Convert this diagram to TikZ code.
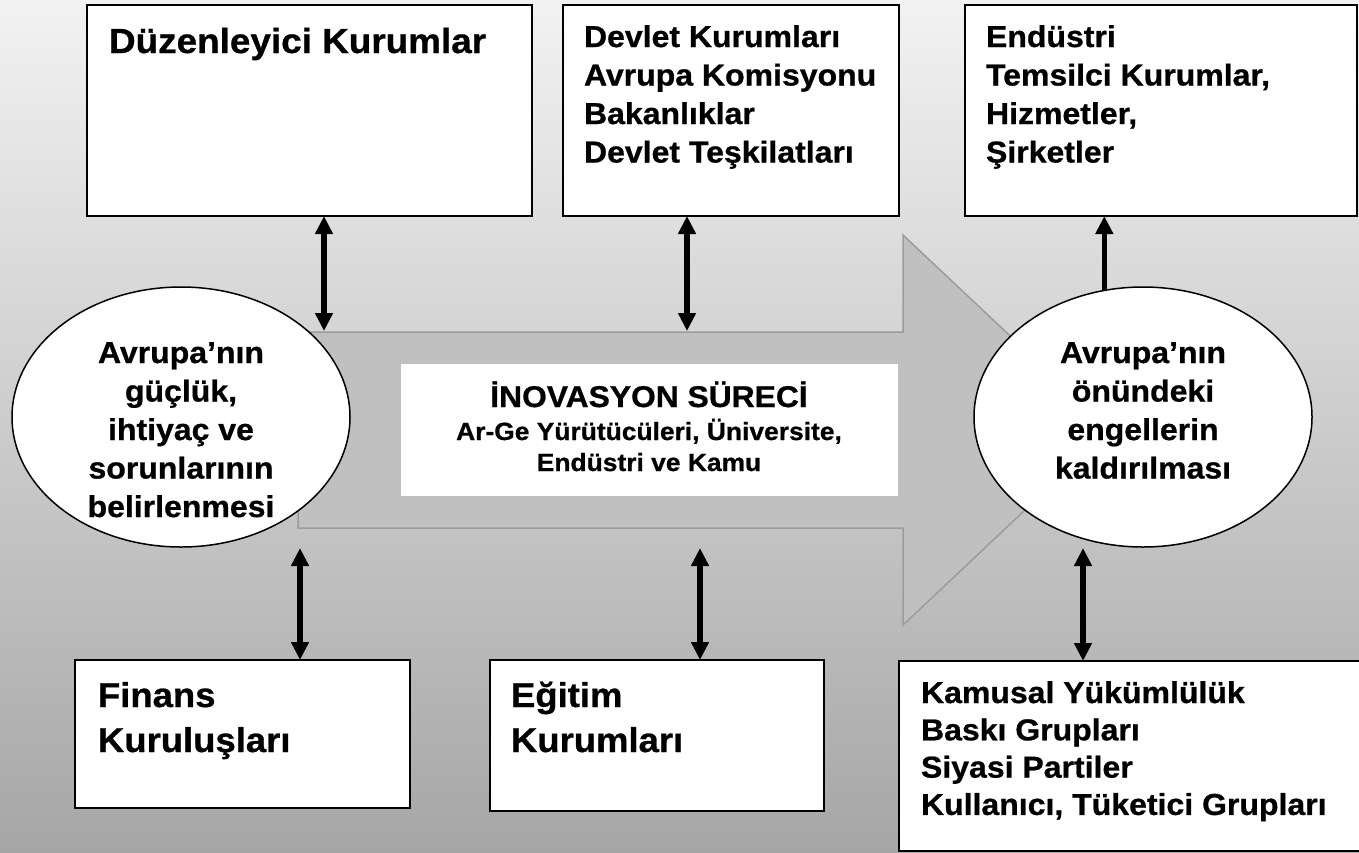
\documentclass[tikz,border=0pt]{standalone}
\usepackage{fontspec}
\setmainfont{Liberation Sans}[FakeStretch=1.06, BoldFeatures={FakeBold=0.8}]
\usetikzlibrary{arrows.meta,shapes.geometric}
\definecolor{arrowfill}{HTML}{C0C0C0}
\definecolor{arrowline}{HTML}{9C9C9C}
\definecolor{bgtop}{HTML}{F2F2F2}
\definecolor{bgmid}{HTML}{D8D8D8}
\definecolor{bgbot}{HTML}{A6A6A6}
\newcommand{\cornertext}[5]{\parbox[t][#2][t]{#1}{\fontsize{#3}{#4}\selectfont\bfseries\begin{tabular}[t]{@{}l@{}}#5\end{tabular}}}
\newcommand{\hangtext}[3]{\raisebox{#1}[0pt][0pt]{\makebox[0pt]{\parbox[t]{#2}{\centering #3\par}}}}
\tikzset{
  boxnode/.style={draw=black, line width=2.2pt, fill=white, anchor=north west, outer sep=0pt},
  ovalnode/.style={ellipse, draw=black, line width=1.5pt, fill=white, inner sep=0pt, outer sep=0pt,
    minimum width=338pt, minimum height=260pt},
  twohead/.style={line width=5.2pt, {Triangle[width=17pt,length=18pt]}-{Triangle[width=17pt,length=18pt]}},
  onehead/.style={line width=5.2pt, -{Triangle[width=17pt,length=18pt]}},
  bigarrow/.style={fill=arrowfill, draw=arrowline, line width=1.5pt, line join=miter},
  innerbox/.style={fill=white, inner sep=0pt, minimum width=497pt, minimum height=132pt}
}
\begin{document}
\begin{tikzpicture}[x=1pt,y=-1pt]
\useasboundingbox (0,0) rectangle (1359,852);
\shade[top color=bgtop, middle color=bgmid, bottom color=bgbot] (0,0) rectangle (1359,852);

% big process arrow
\draw[bigarrow] (298,332) -- (903,332) -- (903,235) -- (1110,430) -- (903,625) -- (903,528) -- (298,528) -- cycle;
\coordinate (a1) at (324,331);
\coordinate (a2) at (687,331);
\coordinate (b1) at (300,548);
\coordinate (b2) at (700,548);
\coordinate (b3) at (1083,548);

\node[innerbox] (inno) at (649,430) {\hangtext{23pt}{490pt}{\bfseries\fontsize{30}{32}\selectfont İNOVASYON SÜRECİ\par\vspace{2pt}\fontsize{24.9}{31}\selectfont Ar-Ge Yürütücüleri, Üniversite,\\Endüstri ve Kamu}};

% ellipses
\node[ovalnode] (lell) at (181,417) {\hangtext{54pt}{300pt}{\bfseries\fontsize{30.2}{38.5}\selectfont Avrupa’nın\\güçlük,\\ihtiyaç ve\\sorunlarının\\belirlenmesi}};
\node[ovalnode] (rell) at (1143,417) {\hangtext{54pt}{300pt}{\bfseries\fontsize{30.2}{38.5}\selectfont Avrupa’nın\\önündeki\\engellerin\\kaldırılması}};

% boxes
\node[boxnode, inner xsep=22pt, inner ysep=17.9pt] (duz) at (87,5) {\cornertext{401pt}{175.2pt}{34.8}{43}{Düzenleyici Kurumlar}};
\node[boxnode, inner xsep=21pt, inner ysep=15.05pt] (dev) at (563,5) {\cornertext{294pt}{180.9pt}{30.2}{38.5}{Devlet Kurumları\\Avrupa Komisyonu\\Bakanlıklar\\Devlet Teşkilatları}};
\node[boxnode, inner xsep=21pt, inner ysep=15.05pt] (end) at (965,5) {\cornertext{350pt}{180.9pt}{30.2}{38.5}{Endüstri\\Temsilci Kurumlar,\\Hizmetler,\\Şirketler}};
\node[boxnode, inner xsep=23pt, inner ysep=15.5pt] (fin) at (75,660) {\cornertext{289pt}{117pt}{34.4}{45}{Finans\\Kuruluşları}};
\node[boxnode, inner xsep=21pt, inner ysep=15.5pt] (egi) at (490,660) {\cornertext{292pt}{120pt}{34.4}{45}{Eğitim\\Kurumları}};
\node[boxnode, inner xsep=22pt, inner ysep=15.89pt] (kam) at (899,661) {\cornertext{422pt}{158.2pt}{30.2}{37.3}{Kamusal Yükümlülük\\Baskı Grupları\\Siyasi Partiler\\Kullanıcı, Tüketici Grupları}};

% connectors
\draw[twohead] (a1) -- (duz.south -| a1);
\draw[twohead] (a2) -- (dev.south -| a2);
\draw[onehead] (rell.107) -- (end.south -| rell.107);
\draw[twohead] (b1) -- (fin.north -| b1);
\draw[twohead] (b2) -- (egi.north -| b2);
\draw[twohead] (b3) -- (kam.north -| b3);
\end{tikzpicture}
\end{document}
